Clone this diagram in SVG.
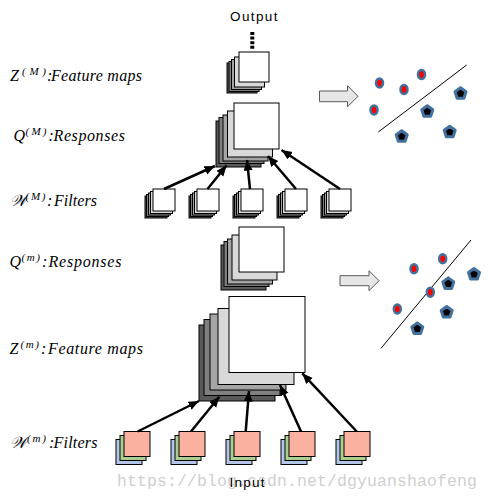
<svg xmlns="http://www.w3.org/2000/svg" xmlns:xlink="http://www.w3.org/1999/xlink" width="488" height="500" viewBox="0 0 488 500">
<style>
.bg{fill:#fff}
rect{stroke:#000;stroke-width:1}
.w{fill:#fff}.g1{fill:#d9d9d9}.g2{fill:#a5a5a5}.g3{fill:#7f7f7f}.g4{fill:#5a5a5a}
.sal{fill:#fbb1a0}.grn{fill:#a9d08e}.blu{fill:#b4c6e7}
.lbl{font-family:"Liberation Serif","DejaVu Serif",serif;font-style:italic;font-size:16px;fill:#000}
.sup{font-size:11px}
.sans{font-family:"Liberation Sans",Arial,sans-serif;font-size:13.5px;fill:#000}
.wm{font-family:"Liberation Mono","DejaVu Sans Mono",monospace;font-size:16.5px;fill:#cfcfcf}
.con{stroke:#000;stroke-width:2.5;fill:none;marker-end:url(#ah)}
.barrow{fill:#e6e6e6;stroke:#595959;stroke-width:1}
.sep{stroke:#000;stroke-width:1;fill:none}
.dot{fill:#f00;stroke:#41719c;stroke-width:2.5}
.pent{fill:#000;stroke:#41719c;stroke-width:3;stroke-linejoin:round}
</style>
<defs>
<marker id="ah" markerUnits="userSpaceOnUse" markerWidth="11" markerHeight="10" refX="10.5" refY="4.5" orient="auto">
<path d="M0,0 L10.5,4.5 L0,9 z" fill="#000"/>
</marker>
<ellipse id="dt" class="dot" rx="3.5" ry="4.5"/>
<polygon id="pt" class="pent" points="0,-5.8 5.5,-1.8 3.4,4.7 -3.4,4.7 -5.5,-1.8"/>
</defs>
<rect class="bg" x="0" y="0" width="488" height="500" style="stroke:none"/>

<text class="wm" x="117" y="486" textLength="360">https://blog.csdn.net/dgyuanshaofeng</text>

<g id="output">
<text class="sans" x="230" y="20.5" textLength="47.5">Output</text>
<line x1="252.3" y1="32" x2="252.3" y2="49.5" stroke="#000" stroke-width="4" stroke-dasharray="3 1.6"/>
</g>

<g id="labels">
<text class="lbl" y="81"><tspan x="10">Z</tspan><tspan class="sup" x="22" y="75" textLength="24">(M)</tspan><tspan x="47" y="81">:</tspan><tspan x="51" textLength="91">Feature maps</tspan></text>
<text class="lbl" y="141"><tspan x="13.5">Q</tspan><tspan class="sup" x="25.5" y="135" textLength="21">(M)</tspan><tspan x="48.5" y="141">:</tspan><tspan x="53.5" textLength="71.5">Responses</tspan></text>
<text class="lbl" y="206"><tspan x="10">𝒲</tspan><tspan class="sup" x="25.5" y="200" textLength="20">(M)</tspan><tspan x="47" y="206">:</tspan><tspan x="54" textLength="43">Filters</tspan></text>
<text class="lbl" y="267"><tspan x="9.5">Q</tspan><tspan class="sup" x="21.5" y="261" textLength="18.5">(m)</tspan><tspan x="42" y="267">:</tspan><tspan x="48.5" textLength="73">Responses</tspan></text>
<text class="lbl" y="354"><tspan x="9.5">Z</tspan><tspan class="sup" x="20.5" y="348" textLength="18.5">(m)</tspan><tspan x="41" y="354">:</tspan><tspan x="48" textLength="95">Feature maps</tspan></text>
<text class="lbl" y="448"><tspan x="10">𝒲</tspan><tspan class="sup" x="27" y="442" textLength="19">(m)</tspan><tspan x="49" y="448">:</tspan><tspan x="53.5" textLength="44">Filters</tspan></text>
</g>

<g id="zM">
<rect class="g4" x="227" y="63" width="30" height="30"/>
<rect class="g3" x="229" y="61.5" width="30" height="30"/>
<rect class="g2" x="231.5" y="59.5" width="30" height="30"/>
<rect class="g1" x="234.5" y="57" width="30" height="30"/>
<rect class="w" x="239" y="52" width="30" height="30"/>
</g>

<g id="qM">
<rect class="g4" x="216" y="121" width="45" height="46"/>
<rect class="g3" x="219" y="117.5" width="45" height="46"/>
<rect class="g2" x="223" y="115" width="45" height="46"/>
<rect class="g1" x="227.5" y="111" width="45" height="46"/>
<rect class="w" x="234" y="103" width="45" height="46"/>
</g>

<g id="wM">
<g id="wM-1" transform="translate(153,189)">
<rect class="g4" x="-8" y="7" width="22" height="22"/><rect class="g3" x="-6.5" y="5.5" width="22" height="22"/><rect class="g2" x="-4.5" y="4" width="22" height="22"/><rect class="g1" x="-2.5" y="2.5" width="22" height="22"/><rect class="w" x="0" y="0" width="22" height="22"/>
</g>
<g id="wM-2" transform="translate(197,189)">
<rect class="g4" x="-8" y="7" width="22" height="22"/><rect class="g3" x="-6.5" y="5.5" width="22" height="22"/><rect class="g2" x="-4.5" y="4" width="22" height="22"/><rect class="g1" x="-2.5" y="2.5" width="22" height="22"/><rect class="w" x="0" y="0" width="22" height="22"/>
</g>
<g id="wM-3" transform="translate(241,189)">
<rect class="g4" x="-8" y="7" width="22" height="22"/><rect class="g3" x="-6.5" y="5.5" width="22" height="22"/><rect class="g2" x="-4.5" y="4" width="22" height="22"/><rect class="g1" x="-2.5" y="2.5" width="22" height="22"/><rect class="w" x="0" y="0" width="22" height="22"/>
</g>
<g id="wM-4" transform="translate(285,189)">
<rect class="g4" x="-8" y="7" width="22" height="22"/><rect class="g3" x="-6.5" y="5.5" width="22" height="22"/><rect class="g2" x="-4.5" y="4" width="22" height="22"/><rect class="g1" x="-2.5" y="2.5" width="22" height="22"/><rect class="w" x="0" y="0" width="22" height="22"/>
</g>
<g id="wM-5" transform="translate(329,189)">
<rect class="g4" x="-8" y="7" width="22" height="22"/><rect class="g3" x="-6.5" y="5.5" width="22" height="22"/><rect class="g2" x="-4.5" y="4" width="22" height="22"/><rect class="g1" x="-2.5" y="2.5" width="22" height="22"/><rect class="w" x="0" y="0" width="22" height="22"/>
</g>
</g>

<g id="qm">
<rect class="g4" x="221" y="245" width="45" height="45"/>
<rect class="g3" x="224" y="241.5" width="45" height="45"/>
<rect class="g2" x="227.5" y="239" width="45" height="45"/>
<rect class="g1" x="232" y="235" width="45" height="45"/>
<rect class="w" x="239" y="227" width="45" height="45"/>
</g>

<g id="zm">
<rect class="g4" x="199" y="325" width="76" height="76"/>
<rect class="g3" x="204" y="319.5" width="76" height="76"/>
<rect class="g2" x="210" y="314" width="76" height="76"/>
<rect class="g1" x="218" y="308.5" width="76" height="76"/>
<rect class="w" x="229" y="296.5" width="76" height="76"/>
</g>

<g id="wm">
<g id="wm-1" transform="translate(124,431.5)"><rect class="blu" x="-8" y="8" width="26" height="25"/><rect class="grn" x="-4" y="4" width="26" height="25"/><rect class="sal" x="0" y="0" width="26" height="25"/></g>
<g id="wm-2" transform="translate(179,431.5)"><rect class="blu" x="-8" y="8" width="26" height="25"/><rect class="grn" x="-4" y="4" width="26" height="25"/><rect class="sal" x="0" y="0" width="26" height="25"/></g>
<g id="wm-3" transform="translate(234,431.5)"><rect class="blu" x="-8" y="8" width="26" height="25"/><rect class="grn" x="-4" y="4" width="26" height="25"/><rect class="sal" x="0" y="0" width="26" height="25"/></g>
<g id="wm-4" transform="translate(289,431.5)"><rect class="blu" x="-8" y="8" width="26" height="25"/><rect class="grn" x="-4" y="4" width="26" height="25"/><rect class="sal" x="0" y="0" width="26" height="25"/></g>
<g id="wm-5" transform="translate(344,431.5)"><rect class="blu" x="-8" y="8" width="26" height="25"/><rect class="grn" x="-4" y="4" width="26" height="25"/><rect class="sal" x="0" y="0" width="26" height="25"/></g>
</g>

<g id="connectors">
<line class="con" x1="164" y1="189" x2="215" y2="166"/>
<line class="con" x1="207.5" y1="189" x2="226.5" y2="165.5"/>
<line class="con" x1="250" y1="189" x2="247" y2="160"/>
<line class="con" x1="296" y1="189" x2="268" y2="156"/>
<line class="con" x1="340" y1="189" x2="281.5" y2="150"/>
<line class="con" x1="137.7" y1="431.5" x2="199" y2="401"/>
<line class="con" x1="191" y1="431.5" x2="219.3" y2="396.7"/>
<line class="con" x1="245.7" y1="431.5" x2="249" y2="391"/>
<line class="con" x1="301" y1="431.5" x2="280" y2="385"/>
<line class="con" x1="356.7" y1="431.5" x2="302.3" y2="373.3"/>
</g>

<g id="classifier-top">
<polygon class="barrow" points="319.5,91 347.5,91 347.5,85.7 358,96.3 347.5,106.7 347.5,101.7 319.5,101.7"/>
<line class="sep" x1="378.3" y1="132" x2="466.7" y2="65"/>
<use xlink:href="#dt" x="379.5" y="83"/>
<use xlink:href="#dt" x="404" y="89.5"/>
<use xlink:href="#dt" x="421.5" y="74.5"/>
<use xlink:href="#dt" x="374" y="110"/>
<use xlink:href="#pt" x="460.5" y="93.5"/>
<use xlink:href="#pt" x="427.3" y="111.5"/>
<use xlink:href="#pt" x="401.7" y="136.5"/>
<use xlink:href="#pt" x="449.7" y="132"/>
</g>

<g id="classifier-bottom">
<polygon class="barrow" points="340,275.7 369,275.7 369,270.7 379,280.7 369,290.7 369,285.7 340,285.7"/>
<line class="sep" x1="381" y1="348.3" x2="471" y2="240"/>
<use xlink:href="#dt" x="414" y="268.7"/>
<use xlink:href="#dt" x="442.7" y="258.7"/>
<use xlink:href="#dt" x="430.3" y="292.3"/>
<use xlink:href="#dt" x="397.3" y="309"/>
<use xlink:href="#pt" x="474" y="274.3"/>
<use xlink:href="#pt" x="448.3" y="283.7"/>
<use xlink:href="#pt" x="446.7" y="312.3"/>
<use xlink:href="#pt" x="417.3" y="328.7"/>
</g>

<g id="input">
<text class="sans" x="229.5" y="486.5" textLength="35">Input</text>
</g>
</svg>
